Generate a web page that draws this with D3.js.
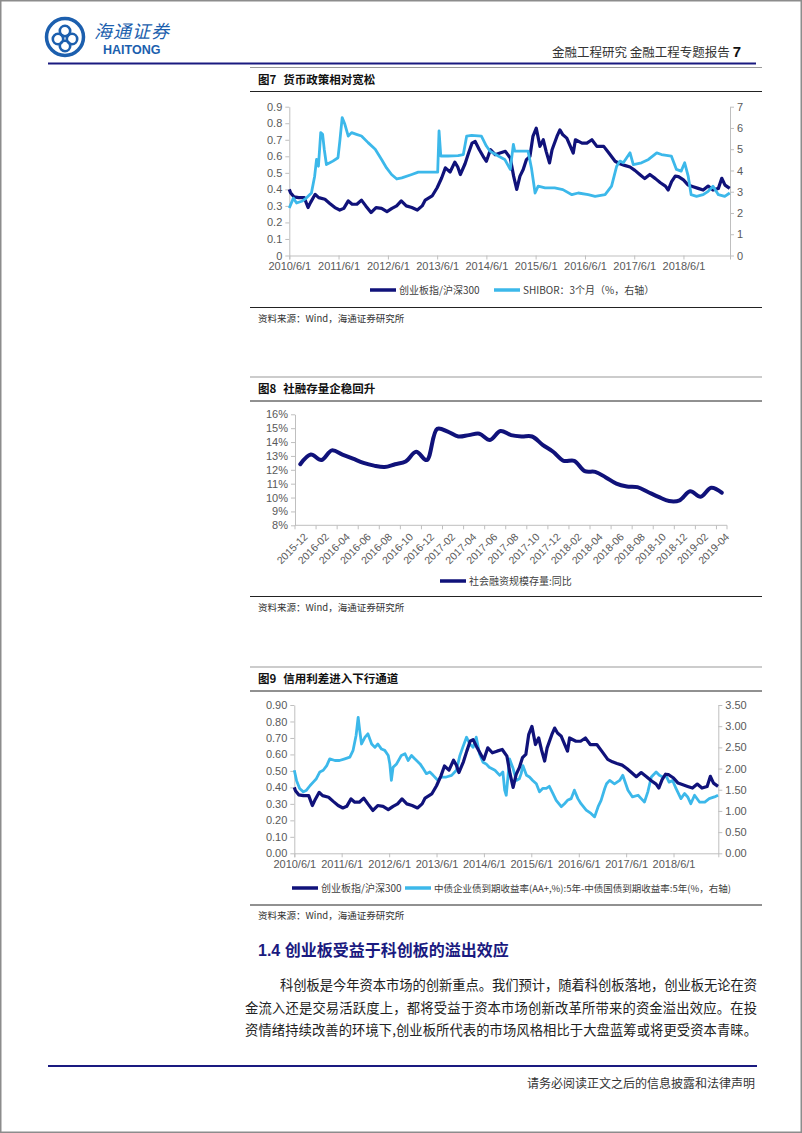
<!DOCTYPE html>
<html>
<head>
<meta charset="utf-8">
<style>
  html, body { margin: 0; padding: 0; background: #fff; }
  svg { display: block; }
  .ax path, .ax line { stroke: #bfbfbf; }
  .ax text { fill: #595959; font-family: "Liberation Sans", Arial, sans-serif; font-size: 11px; }
</style>
</head>
<body>
<script src="https://cdnjs.cloudflare.com/ajax/libs/d3/7.8.5/d3.min.js"></script>
<script>
// ---------- data ----------
// 创业板指/沪深300 (used in fig 7 and fig 9)
var ratioDates = ["2010-06-01","2010-06-10","2010-07-05","2010-08-10","2010-09-20","2010-10-18","2010-11-05","2010-12-10",
  "2011-01-05","2011-02-20","2011-03-28","2011-05-05","2011-06-10","2011-07-10","2011-08-12","2011-09-10","2011-10-15",
  "2011-11-18","2011-12-20","2012-01-28","2012-03-05","2012-04-15","2012-05-25","2012-07-01","2012-08-05","2012-09-08",
  "2012-10-15","2012-11-25","2013-01-05","2013-02-10","2013-03-05","2013-04-25","2013-06-01","2013-07-05","2013-08-01",
  "2013-09-05","2013-10-10","2013-11-01","2013-11-20","2013-12-25","2014-01-20","2014-02-15","2014-03-10","2014-04-10",
  "2014-05-15","2014-06-01","2014-07-01","2014-08-05","2014-09-10","2014-10-20","2014-11-25","2014-12-20","2015-01-12",
  "2015-02-05","2015-03-01","2015-03-25","2015-04-20","2015-05-12","2015-06-06","2015-07-03","2015-07-28","2015-08-18",
  "2015-09-12","2015-10-01","2015-11-06","2015-11-28","2015-12-20","2016-01-18","2016-03-06","2016-03-22","2016-05-10",
  "2016-06-15","2016-07-22","2016-08-28","2016-10-18","2016-11-25","2017-01-10","2017-02-15","2017-03-22","2017-05-01",
  "2017-06-06","2017-07-12","2017-08-18","2017-09-25","2017-11-05","2017-12-12","2018-01-18","2018-02-08","2018-03-05",
  "2018-04-01","2018-04-25","2018-06-01","2018-07-06","2018-08-12","2018-09-18","2018-10-25","2018-12-01","2019-01-06",
  "2019-02-15","2019-03-12","2019-04-05","2019-05-10"];
var ratioValues = [0.40,0.38,0.355,0.35,0.35,0.29,0.32,0.37,
  0.35,0.34,0.315,0.29,0.275,0.285,0.33,0.31,0.31,
  0.335,0.30,0.26,0.29,0.285,0.265,0.285,0.30,0.33,
  0.30,0.29,0.275,0.30,0.335,0.36,0.41,0.47,0.53,
  0.505,0.565,0.535,0.49,0.555,0.62,0.68,0.69,0.64,
  0.59,0.57,0.64,0.61,0.62,0.63,0.59,0.48,0.40,
  0.48,0.52,0.58,0.60,0.72,0.77,0.66,0.70,0.63,
  0.56,0.64,0.72,0.76,0.73,0.71,0.62,0.70,0.68,
  0.68,0.70,0.66,0.66,0.62,0.57,0.555,0.545,0.535,
  0.515,0.49,0.465,0.49,0.465,0.44,0.42,0.396,0.447,
  0.48,0.477,0.457,0.426,0.416,0.406,0.396,0.42,0.396,
  0.406,0.467,0.426,0.406];

// SHIBOR 3个月 (%)
var shiborDates = ["2010-06-01","2010-07-01","2010-07-25","2010-09-01","2010-10-05","2010-11-12","2010-12-06","2010-12-20",
  "2011-01-03","2011-01-20","2011-02-03","2011-02-15","2011-03-03","2011-03-28","2011-04-20","2011-05-28","2011-06-12",
  "2011-06-28","2011-07-18","2011-08-12","2011-09-06","2011-10-12","2011-11-18","2012-01-06","2012-02-28","2012-04-15",
  "2012-05-22","2012-06-28","2012-08-06","2012-09-12","2012-11-25","2013-01-12","2013-06-05","2013-06-15","2013-06-28",
  "2013-08-20","2013-11-03","2013-12-12","2014-01-06","2014-02-12","2014-04-25","2014-06-01","2014-06-28","2014-08-28",
  "2014-10-15","2014-11-25","2014-12-18","2014-12-28","2015-02-06","2015-04-06","2015-05-01","2015-05-28","2015-06-20",
  "2015-08-10","2015-10-20","2015-12-20","2016-02-25","2016-04-12","2016-06-25","2016-08-15","2016-10-28","2016-12-15",
  "2017-01-22","2017-02-15","2017-03-12","2017-05-01","2017-05-25","2017-07-25","2017-09-15","2017-11-15","2017-12-20",
  "2018-03-03","2018-04-10","2018-05-15","2018-06-10","2018-07-06","2018-07-28","2018-09-06","2018-10-25","2018-12-01",
  "2019-01-06","2019-02-15","2019-04-03","2019-05-10"];
var shiborValues = [2.23,2.7,2.47,2.55,2.7,2.94,3.73,4.52,
  4.2,5.78,5.7,5.0,4.28,4.36,4.44,4.6,5.46,
  6.49,6.17,5.62,5.78,5.70,5.62,5.31,5.0,4.52,
  4.12,3.81,3.6,3.65,3.81,3.92,3.92,5.86,4.68,
  4.68,4.7,4.75,5.62,5.65,5.62,5.15,4.91,4.68,
  4.52,4.05,5.23,4.91,4.91,4.91,4.12,2.94,3.26,
  3.18,3.18,3.1,2.86,2.94,2.86,2.78,2.86,3.26,
  4.2,4.44,4.36,4.83,4.28,4.36,4.52,4.83,4.75,
  4.68,4.05,3.97,4.36,3.73,2.86,2.78,2.86,3.02,
  3.26,2.86,2.78,2.94];

// 社会融资规模存量:同比 (%)
var tsfMonths = ["2015-12","2016-01","2016-02","2016-03","2016-04","2016-05","2016-06","2016-07","2016-08","2016-09",
  "2016-10","2016-11","2016-12","2017-01","2017-02","2017-03","2017-04","2017-05","2017-06","2017-07","2017-08",
  "2017-09","2017-10","2017-11","2017-12","2018-01","2018-02","2018-03","2018-04","2018-05","2018-06","2018-07",
  "2018-08","2018-09","2018-10","2018-11","2018-12","2019-01","2019-02","2019-03","2019-04"];
var tsfValues = [12.4,13.1,12.7,13.4,13.1,12.8,12.5,12.3,12.2,12.4,
  12.6,13.3,12.7,14.95,14.75,14.4,14.5,14.6,14.15,14.8,14.5,
  14.4,14.4,13.8,13.3,12.65,12.65,11.9,11.85,11.45,11.0,10.8,
  10.75,10.4,10.05,9.75,9.8,10.45,10.05,10.7,10.35];

// 中债企业债(AA+)5年 - 中债国债5年 (%)
var spreadDates = ["2010-06-01","2010-06-18","2010-07-12","2010-08-10","2010-09-03","2010-10-01","2010-10-25","2010-11-18",
  "2010-12-15","2011-01-10","2011-02-06","2011-03-01","2011-04-10","2011-05-15","2011-06-25","2011-08-03","2011-08-28",
  "2011-09-20","2011-10-06","2011-10-18","2011-11-01","2011-11-28","2011-12-20","2012-01-18","2012-02-12","2012-03-06",
  "2012-04-03","2012-04-28","2012-05-25","2012-06-06","2012-06-18","2012-07-01","2012-07-28","2012-09-03","2012-10-01",
  "2012-10-25","2012-11-20","2012-12-15","2013-01-25","2013-02-18","2013-03-15","2013-04-10","2013-05-06","2013-06-12",
  "2013-07-06","2013-08-15","2013-09-25","2013-11-01","2013-11-28","2013-12-20","2014-01-18","2014-02-12","2014-03-10",
  "2014-04-03","2014-04-28","2014-05-25","2014-06-18","2014-07-12","2014-08-25","2014-10-01","2014-10-25","2014-11-08",
  "2014-11-20","2014-12-03","2014-12-15","2015-01-12","2015-02-06","2015-03-01","2015-03-15","2015-03-28","2015-04-25",
  "2015-05-18","2015-06-12","2015-07-10","2015-08-03","2015-08-28","2015-09-25","2015-10-18","2015-11-15","2015-12-10",
  "2016-01-18","2016-02-12","2016-03-06","2016-04-03","2016-04-28","2016-05-25","2016-06-18","2016-07-28","2016-09-03",
  "2016-10-01","2016-10-28","2016-11-20","2016-12-18","2017-01-01","2017-01-25","2017-03-03","2017-04-12","2017-05-06",
  "2017-06-15","2017-07-20","2017-09-01","2017-09-25","2017-10-20","2017-11-15","2017-12-12","2018-01-18","2018-02-12",
  "2018-03-10","2018-04-03","2018-04-28","2018-05-25","2018-06-20","2018-07-28","2018-08-25","2018-09-18","2018-10-12",
  "2018-11-10","2018-12-18","2019-01-28","2019-03-03","2019-04-12","2019-05-10"];
var spreadValues = [1.96,1.72,1.53,1.45,1.49,1.6,1.68,1.76,
  1.92,1.96,2.07,2.23,2.19,2.19,2.23,2.27,2.43,
  2.78,3.21,2.9,2.58,2.74,2.82,2.58,2.5,2.58,
  2.46,2.43,2.31,2.11,1.72,2.03,2.11,2.31,2.35,
  2.19,2.31,2.23,2.11,2.0,1.88,1.92,1.84,1.72,
  1.80,1.80,1.84,1.96,2.31,2.5,2.74,2.58,2.5,
  2.74,2.35,2.15,2.11,2.03,1.96,1.84,1.92,1.49,
  1.37,1.8,2.23,2.0,1.72,1.76,1.88,2.07,1.84,
  1.8,1.72,1.64,1.45,1.53,1.53,1.58,1.41,1.25,
  1.1,1.17,1.25,1.29,1.49,1.29,1.17,1.02,0.94,
  0.86,1.1,1.25,1.53,1.64,1.72,1.64,1.72,1.84,
  1.49,1.33,1.37,1.29,1.21,1.45,1.8,1.92,1.84,
  1.8,1.84,1.68,1.72,1.53,1.29,1.41,1.33,1.17,
  1.37,1.21,1.21,1.29,1.33,1.37];

var yearTicks = ["2010-06-01","2011-06-01","2012-06-01","2013-06-01","2014-06-01","2015-06-01","2016-06-01","2017-06-01","2018-06-01"];
var dateRange = ["2010-06-01", "2019-05-12"];

var NAVY = "#10127a", SKY = "#3cb8ea";
var CJK = "'Noto Sans CJK SC', 'Noto Sans', sans-serif";
var LAT = "'Liberation Sans', Arial, sans-serif";

var parse = d3.timeParse("%Y-%m-%d");
var fmtDate = d3.timeFormat("%Y/%-m/%-d");

var svg = d3.select("body").append("svg").attr("width", 802).attr("height", 1133);
svg.append("rect").attr("x", 0.75).attr("y", 0.75).attr("width", 800.5).attr("height", 1131.5)
  .attr("fill", "#fff").attr("stroke", "#8c8c8c").attr("stroke-width", 1.5);

// ---------- page header ----------
var logo = svg.append("g").attr("transform", "translate(65,37)");
logo.append("circle").attr("r", 18.5).attr("fill", "none").attr("stroke", "#1c5fae").attr("stroke-width", 3.5);
[[0, -6], [-7, 2], [7, 2], [0, 9]].forEach(function (p) {
  logo.append("circle").attr("cx", p[0]).attr("cy", p[1]).attr("r", 5.2)
    .attr("fill", "none").attr("stroke", "#1c5fae").attr("stroke-width", 2.6);
});
svg.append("text").attr("x", 94).attr("y", 38).text("海通证券")
  .attr("font-family", CJK).attr("font-style", "italic").attr("font-size", 18).attr("letter-spacing", 1)
  .attr("fill", "#1c5fae");
svg.append("text").attr("x", 103).attr("y", 54).text("HAITONG")
  .attr("font-family", LAT).attr("font-weight", "bold").attr("font-size", 12.5).attr("fill", "#1c5fae");

var hdr = svg.append("text").attr("x", 741).attr("y", 57).attr("text-anchor", "end")
  .attr("font-family", CJK).attr("font-size", 12.5).attr("fill", "#333");
hdr.append("tspan").text("金融工程研究  金融工程专题报告 ");
hdr.append("tspan").text("7").attr("font-family", LAT).attr("font-weight", "bold").attr("font-size", 15).attr("fill", "#111");

svg.append("line").attr("x1", 48).attr("x2", 756).attr("y1", 63.5).attr("y2", 63.5)
  .attr("stroke", "#1a1a80").attr("stroke-width", 2.2);

// ---------- figure frame helper ----------
function frame(top, title, bottom) {
  svg.append("line").attr("x1", 250).attr("x2", 762).attr("y1", top).attr("y2", top)
    .attr("stroke", "#9a9a9a").attr("stroke-width", 1.2);
  var t = svg.append("text").attr("x", 258).attr("y", top + 16)
    .attr("font-family", CJK).attr("font-weight", "bold").attr("font-size", 11.5).attr("fill", "#111");
  t.append("tspan").text(title[0]);
  t.append("tspan").attr("dx", 7).text(title[1]);
  svg.append("line").attr("x1", 250).attr("x2", 762).attr("y1", top + 24).attr("y2", top + 24)
    .attr("stroke", "#222").attr("stroke-width", 1);
  svg.append("line").attr("x1", 250).attr("x2", 762).attr("y1", bottom).attr("y2", bottom)
    .attr("stroke", "#222").attr("stroke-width", 1);
  svg.append("text").attr("x", 258).attr("y", bottom + 14).text("资料来源：Wind，海通证券研究所")
    .attr("font-family", CJK).attr("font-size", 9.5).attr("fill", "#333");
}

function legendItem(x, y, color, label, size) {
  svg.append("line").attr("x1", x).attr("x2", x + 26).attr("y1", y).attr("y2", y)
    .attr("stroke", color).attr("stroke-width", 3.5);
  svg.append("text").attr("x", x + 29).attr("y", y + 3.5).text(label)
    .attr("font-family", CJK).attr("font-size", size || 10).attr("fill", "#404040");
}

function styleAxis(g) {
  g.attr("class", "ax");
  g.selectAll("path").attr("stroke", "#bfbfbf");
  g.selectAll("line").attr("stroke", "#bfbfbf");
}

// dual-axis daily chart
function dualChart(o) {
  var x = d3.scaleTime().domain(dateRange.map(parse)).range([o.left, o.right]);
  var yL = d3.scaleLinear().domain([0, o.lmax]).range([o.bottom, o.top]);
  var yR = d3.scaleLinear().domain([0, o.rmax]).range([o.bottom, o.top]);

  var gx = svg.append("g").attr("transform", "translate(0," + o.bottom + ")")
    .call(d3.axisBottom(x).tickValues(yearTicks.map(parse)).tickFormat(fmtDate).tickSizeOuter(0).tickSize(4).tickPadding(3));
  styleAxis(gx);
  var gl = svg.append("g").attr("transform", "translate(" + o.left + ",0)")
    .call(d3.axisLeft(yL).tickValues(o.lticks).tickFormat(o.lfmt).tickSize(4).tickSizeOuter(0).tickPadding(3));
  styleAxis(gl);
  var gr = svg.append("g").attr("transform", "translate(" + o.right + ",0)")
    .call(d3.axisRight(yR).tickValues(o.rticks).tickFormat(o.rfmt).tickSize(4).tickSizeOuter(0).tickPadding(3));
  styleAxis(gr);

  var right = o.rDates.map(function (d, i) { return [parse(d), o.rValues[i]]; });
  var left = ratioDates.map(function (d, i) { return [parse(d), ratioValues[i]]; });

  var lineL = d3.line().x(function (d) { return x(d[0]); }).y(function (d) { return yL(d[1]); });
  var lineR = d3.line().x(function (d) { return x(d[0]); }).y(function (d) { return yR(d[1]); });

  var series = [
    { data: left, line: lineL, color: NAVY, w: 3.2 },
    { data: right, line: lineR, color: SKY, w: 2.8 }
  ];
  if (o.skyOnTop === false) series.reverse();
  series.forEach(function (s) {
    svg.append("path").datum(s.data).attr("d", s.line).attr("fill", "none")
      .attr("stroke", s.color).attr("stroke-width", s.w).attr("stroke-linejoin", "round");
  });
}

// ---------- figure 7 ----------
frame(67.5, ["图7", "货币政策相对宽松"], 307.5);
dualChart({
  left: 289.3, right: 730, top: 106.7, bottom: 255.5,
  lmax: 0.9, rmax: 7,
  lticks: d3.range(0, 10).map(function (i) { return i / 10; }),
  lfmt: function (d) { return d === 0 ? "0" : d3.format(".1f")(d); },
  rticks: d3.range(0, 8), rfmt: d3.format("d"),
  rDates: shiborDates, rValues: shiborValues
});
legendItem(370, 290, NAVY, "创业板指/沪深300");
legendItem(494, 290, SKY, "SHIBOR：3个月（%，右轴）");

// ---------- figure 8 ----------
frame(377, ["图8", "社融存量企稳回升"], 596.5);
(function () {
  var left = 295, right = 727, top = 414.3, bottom = 525.3;
  var x = d3.scaleBand().domain(tsfMonths).range([left, right]);
  var y = d3.scaleLinear().domain([8, 16]).range([bottom, top]);

  var gl = svg.append("g").attr("transform", "translate(" + left + ",0)")
    .call(d3.axisLeft(y).tickValues(d3.range(8, 17)).tickFormat(function (d) { return d + "%"; })
      .tickSize(4).tickSizeOuter(0).tickPadding(3));
  styleAxis(gl);

  var gx = svg.append("g").attr("transform", "translate(0," + bottom + ")");
  gx.append("line").attr("x1", left).attr("x2", right).attr("stroke", "#bfbfbf");
  tsfMonths.forEach(function (m, i) {
    if (i % 2) return;
    gx.append("line").attr("x1", x(m)).attr("x2", x(m)).attr("y1", 0).attr("y2", 4).attr("stroke", "#bfbfbf");
    var cx = x(m) + x.bandwidth() / 2;
    gx.append("text").text(m).attr("text-anchor", "end")
      .attr("transform", "translate(" + (cx + 3) + ",7) rotate(-45)")
      .attr("dy", "0.7em")
      .attr("font-family", LAT).attr("font-size", 10.5).attr("fill", "#595959");
  });
  gx.append("line").attr("x1", right).attr("x2", right).attr("y1", 0).attr("y2", 4).attr("stroke", "#bfbfbf");

  var line = d3.line().curve(d3.curveCatmullRom.alpha(0.5))
    .x(function (d) { return x(d[0]) + x.bandwidth() / 2; }).y(function (d) { return y(d[1]); });
  svg.append("path").datum(tsfMonths.map(function (m, i) { return [m, tsfValues[i]]; }))
    .attr("d", line).attr("fill", "none").attr("stroke", NAVY).attr("stroke-width", 4)
    .attr("stroke-linejoin", "round").attr("stroke-linecap", "round");

  legendItem(440, 581, NAVY, "社会融资规模存量:同比");
})();

// ---------- figure 9 ----------
frame(667, ["图9", "信用利差进入下行通道"], 905);
dualChart({
  left: 294.3, right: 718.3, top: 705, bottom: 853.3,
  lmax: 0.9, rmax: 3.5,
  lticks: d3.range(0, 10).map(function (i) { return i / 10; }), lfmt: d3.format(".2f"),
  rticks: d3.range(0, 8).map(function (i) { return i / 2; }), rfmt: d3.format(".2f"),
  rDates: spreadDates, rValues: spreadValues, skyOnTop: false
});
legendItem(292, 888, NAVY, "创业板指/沪深300");
legendItem(405, 888, SKY, "中债企业债到期收益率(AA+,%):5年-中债国债到期收益率:5年(%，右轴)", 9.5);

// ---------- text section ----------
var h = svg.append("text").attr("x", 258).attr("y", 956).attr("fill", "#1a1a80").attr("font-weight", "bold");
h.append("tspan").text("1.4 ").attr("font-family", LAT).attr("font-size", 16);
h.append("tspan").text("创业板受益于科创板的溢出效应").attr("font-family", CJK).attr("font-size", 16);

var para = [
  { x: 280, w: 477, t: "科创板是今年资本市场的创新重点。我们预计，随着科创板落地，创业板无论在资" },
  { x: 245, w: 512, t: "金流入还是交易活跃度上，都将受益于资本市场创新改革所带来的资金溢出效应。在投" },
  { x: 245, w: 512, t: "资情绪持续改善的环境下,创业板所代表的市场风格相比于大盘蓝筹或将更受资本青睐。" }
];
para.forEach(function (p, i) {
  svg.append("text").attr("x", p.x).attr("y", 990 + i * 22.5).text(p.t)
    .attr("textLength", p.w).attr("lengthAdjust", "spacing")
    .attr("font-family", CJK).attr("font-size", 13.3).attr("fill", "#222");
});

// ---------- footer ----------
svg.append("line").attr("x1", 48).attr("x2", 757).attr("y1", 1066).attr("y2", 1066)
  .attr("stroke", "#1a1a80").attr("stroke-width", 2.2);
svg.append("text").attr("x", 755).attr("y", 1088).attr("text-anchor", "end")
  .text("请务必阅读正文之后的信息披露和法律声明")
  .attr("font-family", CJK).attr("font-size", 12).attr("fill", "#333");
</script>
</body>
</html>
